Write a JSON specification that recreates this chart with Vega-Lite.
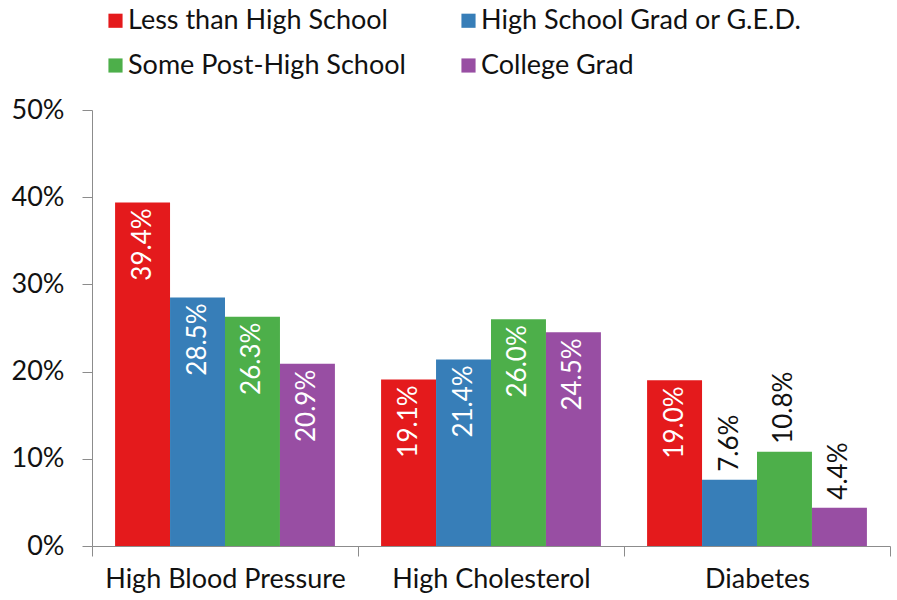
{
  "$schema": "https://vega.github.io/schema/vega-lite/v6.json",
  "width": 798,
  "height": 436,
  "autosize": {"type": "none"},
  "padding": {"left": 92, "top": 110, "right": 7, "bottom": 54},
  "background": "white",
  "config": {
    "view": {"stroke": null},
    "font": "Lato",
    "axis": {"grid": false, "labelFont": "Lato", "labelFontSize": 27, "labelColor": "#111111", "domainColor": "#8c8c8c", "tickColor": "#8c8c8c", "tickSize": 10}
  },
  "data": {
    "values": [
      {"condition": "High Blood Pressure", "education": "Less than High School", "value": 0.394},
      {"condition": "High Blood Pressure", "education": "High School Grad or G.E.D.", "value": 0.285},
      {"condition": "High Blood Pressure", "education": "Some Post-High School", "value": 0.263},
      {"condition": "High Blood Pressure", "education": "College Grad", "value": 0.209},
      {"condition": "High Cholesterol", "education": "Less than High School", "value": 0.191},
      {"condition": "High Cholesterol", "education": "High School Grad or G.E.D.", "value": 0.214},
      {"condition": "High Cholesterol", "education": "Some Post-High School", "value": 0.260},
      {"condition": "High Cholesterol", "education": "College Grad", "value": 0.245},
      {"condition": "Diabetes", "education": "Less than High School", "value": 0.190},
      {"condition": "Diabetes", "education": "High School Grad or G.E.D.", "value": 0.076},
      {"condition": "Diabetes", "education": "Some Post-High School", "value": 0.108},
      {"condition": "Diabetes", "education": "College Grad", "value": 0.044}
    ]
  },
  "encoding": {
    "x": {
      "field": "condition", "type": "nominal",
      "sort": ["High Blood Pressure", "High Cholesterol", "Diabetes"],
      "scale": {"paddingInner": 0, "paddingOuter": 0},
      "axis": {"title": null, "labelAngle": 0, "tickBand": "extent", "labelPadding": 10, "labelLimit": 0}
    },
    "xOffset": {
      "field": "education", "type": "nominal",
      "sort": ["Less than High School", "High School Grad or G.E.D.", "Some Post-High School", "College Grad"],
      "scale": {"paddingInner": 0, "paddingOuter": 0.42}
    },
    "y": {
      "field": "value", "type": "quantitative",
      "scale": {"domain": [0, 0.5]},
      "axis": {"title": null, "format": ".0%", "values": [0, 0.1, 0.2, 0.3, 0.4, 0.5], "labelPadding": 18}
    }
  },
  "layer": [
    {
      "mark": {"type": "bar"},
      "encoding": {
        "color": {
          "field": "education", "type": "nominal",
          "scale": {
            "domain": ["Less than High School", "High School Grad or G.E.D.", "Some Post-High School", "College Grad"],
            "range": ["#e41a1c", "#377eb8", "#4daf4a", "#984ea3"]
          },
          "legend": {
            "title": null, "orient": "none", "legendX": 10, "legendY": -103,
            "direction": "horizontal", "columns": 2, "columnPadding": 49, "rowPadding": 17,
            "symbolType": "square", "symbolSize": 200, "symbolStrokeWidth": 0,
            "labelFont": "Lato", "labelFontSize": 27, "labelColor": "#111111", "labelOffset": -1, "labelLimit": 500
          }
        }
      }
    },
    {
      "transform": [{"filter": "datum.value >= 0.15"}],
      "mark": {"type": "text", "angle": 270, "align": "right", "baseline": "middle", "dx": -6, "fontSize": 26, "color": "white", "font": "Lato"},
      "encoding": {"text": {"field": "value", "format": ".1%"}}
    },
    {
      "transform": [{"filter": "datum.value < 0.15"}],
      "mark": {"type": "text", "angle": 270, "align": "left", "baseline": "middle", "dx": 8, "fontSize": 26, "color": "#111111", "font": "Lato"},
      "encoding": {"text": {"field": "value", "format": ".1%"}}
    }
  ]
}
